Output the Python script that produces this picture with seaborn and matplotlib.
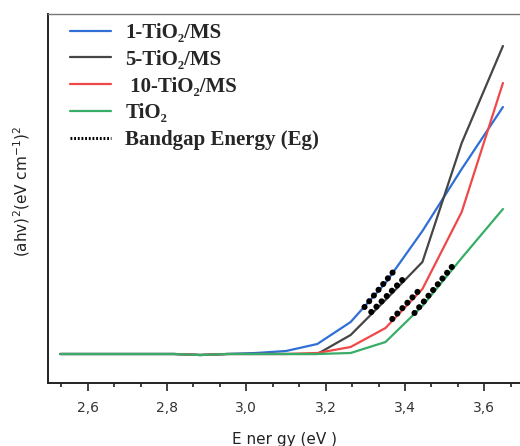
import matplotlib
matplotlib.use("Agg")
import matplotlib.pyplot as plt
from matplotlib.lines import Line2D
from matplotlib.ticker import MultipleLocator
import numpy as np
import pandas as pd
import seaborn as sns

# Photon energy (eV) of each measured point
energy = [2.531, 2.583, 2.638, 2.696, 2.756, 2.818, 2.884, 2.952,
          3.024, 3.100, 3.179, 3.263, 3.351, 3.444, 3.543, 3.647]

# Tauc plot values (a.u.)
tio2_1ms = [0, 0, 0, 0, 0, 0, -0.01, 0, 0.01, 0.03, 0.10, 0.32, 0.71, 1.23, 1.85, 2.47]
tio2_5ms = [0, 0, 0, 0, 0, 0, -0.01, 0, 0, 0, 0, 0.19, 0.54, 0.92, 2.11, 3.08]
tio2_10ms = [0, 0, 0, 0, 0, 0, -0.01, 0, 0, 0, 0.01, 0.07, 0.26, 0.65, 1.42, 2.71]
tio2_pure = [0, 0, 0, 0, 0, 0, -0.01, 0, 0, 0, 0, 0.01, 0.12, 0.48, 0.96, 1.45]

series_names = ["1-TiO\u2082/MS", "5-TiO\u2082/MS", " 10-TiO\u2082/MS", "TiO\u2082"]
series_values = [tio2_1ms, tio2_5ms, tio2_10ms, tio2_pure]
series_colors = ["#2f6fd6", "#454545", "#f04848", "#38ad68"]

# Linear fits used to extrapolate the band gap
eg_x = [[3.298, 3.376], [3.315, 3.398], [3.368, 3.436], [3.424, 3.524]]
eg_y = [[0.47, 0.85], [0.42, 0.76], [0.35, 0.64], [0.41, 0.90]]

tick_values = [2.6, 2.8, 3.0, 3.2, 3.4, 3.6]
tick_labels = ["2,6", "2,8", "3,0", "3,2", "3,4", "3,6"]

df = pd.DataFrame({
    "Energy": np.tile(energy, len(series_names)),
    "value": np.concatenate(series_values),
    "sample": np.repeat(series_names, len(energy)),
})

sns.set_theme(style="ticks")
plt.rcParams["font.family"] = ["DejaVu Sans"]

fig = plt.figure(figsize=(5.2, 4.46), dpi=100)
ax = fig.add_axes([48 / 520, 1 - 383 / 446, 1 - 48 / 520, (383 - 14) / 446])

sns.lineplot(data=df, x="Energy", y="value", hue="sample", hue_order=series_names,
             palette=series_colors, linewidth=1.6, ax=ax, legend=False, sort=False)

for xs, ys in zip(eg_x, eg_y):
    ax.plot(xs, ys, color="black", linewidth=4.4, linestyle=(0, (0.01, 1.2)),
            dash_capstyle="round", zorder=5)

ax.set_xlim(2.50, 3.69)
ax.set_ylim(-0.29, 3.40)
ax.set_xticks(tick_values)
ax.set_xticklabels(tick_labels)
ax.xaxis.set_minor_locator(MultipleLocator(0.2 / 3))
ax.set_yticks([])

ax.spines["right"].set_visible(False)
ax.spines["top"].set_color("#777777")
ax.spines["top"].set_linewidth(1.0)
for s in ("left", "bottom"):
    ax.spines[s].set_color("#222222")
    ax.spines[s].set_linewidth(1.4)

ax.tick_params(axis="x", which="major", length=6, width=1.2, color="#222222",
               labelsize=10, labelcolor="#333333", pad=7)
ax.tick_params(axis="x", which="minor", length=3, width=1.2, color="#222222")

ax.set_xlabel("E ner gy (eV )", fontsize=11, color="#222222", labelpad=12)
ax.set_ylabel(r"(ahv)$^2$(eV cm$^{-1}$)$^2$", fontsize=11, color="#222222")
ax.yaxis.set_label_coords(-0.034, 0.52)

handles = [Line2D([], [], color=c, linewidth=1.6) for c in series_colors]
handles.append(Line2D([], [], color="black", linewidth=2.2, linestyle=(0, (0.6, 0.6))))
labels = series_names + ["Bandgap Energy (Eg)"]
leg = ax.legend(handles, labels, loc="upper left", bbox_to_anchor=(0.047, 0.976),
                frameon=False, borderaxespad=0, borderpad=0,
                handlelength=1.95, handletextpad=0.7, labelspacing=0.33,
                prop={"family": ["Liberation Serif", "DejaVu Serif"], "weight": "bold", "size": 15})

fig.savefig("out.png", dpi=100)
